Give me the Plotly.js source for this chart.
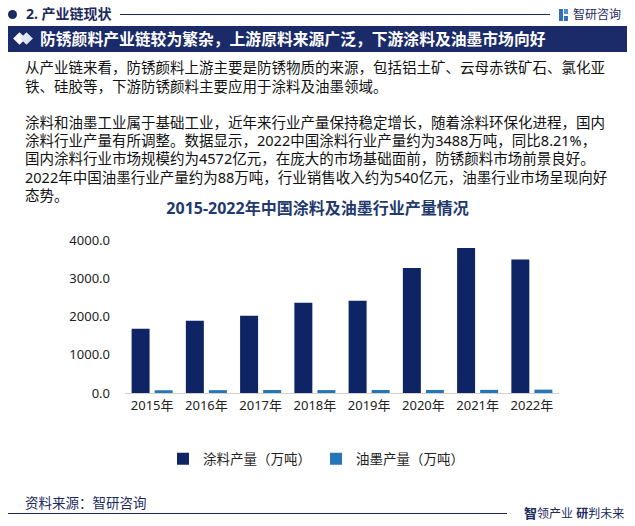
<!DOCTYPE html>
<html>
<head>
<meta charset="utf-8">
<script src="https://cdn.plot.ly/plotly-3.0.1.min.js"></script>
<style>
html,body{margin:0;padding:0;background:#fff;}
body{width:635px;height:526px;position:relative;overflow:hidden;font-family:"Noto Sans","Noto Sans CJK SC",sans-serif;}
#chart{position:absolute;left:0;top:0;width:635px;height:526px;}
.ov{position:absolute;z-index:5;white-space:nowrap;}
</style>
</head>
<body>
<div id="chart"></div>

<div class="ov" style="left:8px;top:10px;width:9px;height:9px;border-radius:50%;background:#1c2a5e;"></div>
<div class="ov" style="left:26px;top:4px;font-size:14px;font-weight:bold;color:#1c2a5e;line-height:20px;">2. 产业链现状</div>
<div class="ov" style="left:120px;top:14px;width:430px;height:1px;background:#1c2a5e;"></div>
<div class="ov" style="left:559px;top:9px;width:9px;height:12px;">
  <div style="position:absolute;left:0;top:0;width:4px;height:12px;background:#2e6fc0;"></div>
  <div style="position:absolute;left:5px;top:0;width:4px;height:5px;background:#4a90d9;"></div>
  <div style="position:absolute;left:5px;top:7px;width:4px;height:5px;background:#2e6fc0;"></div>
</div>
<div class="ov" style="left:573px;top:5px;font-size:12px;color:#1c2a5e;line-height:20px;">智研咨询</div>

<div class="ov" style="left:8px;top:26px;width:619px;height:26px;background:#1b2a68;"></div>
<div class="ov" style="left:15px;top:34px;width:9px;height:9px;background:#fff;transform:rotate(45deg);"></div>
<div class="ov" style="left:22px;top:34px;width:9px;height:9px;background:#dfe6f3;transform:rotate(45deg);"></div>
<div class="ov" style="left:40px;top:27px;font-size:15.8px;font-weight:bold;color:#fff;line-height:24px;">防锈颜料产业链较为繁杂，上游原料来源广泛，下游涂料及油墨市场向好</div>

<div class="ov" style="left:25px;top:58px;font-size:14.5px;color:#111;line-height:19px;">从产业链来看，防锈颜料上游主要是防锈物质的来源，包括铝土矿、云母赤铁矿石、氯化亚<br>铁、硅胶等，下游防锈颜料主要应用于涂料及油墨领域。</div>

<div class="ov" style="left:25px;top:113px;font-size:14.5px;color:#111;line-height:18.2px;">涂料和油墨工业属于基础工业，近年来行业产量保持稳定增长，随着涂料环保化进程，国内<br>涂料行业产量有所调整。数据显示，2022中国涂料行业产量约为3488万吨，同比8.21%，<br>国内涂料行业市场规模约为4572亿元，在庞大的市场基础面前，防锈颜料市场前景良好。<br>2022年中国油墨行业产量约为88万吨，行业销售收入约为540亿元，油墨行业市场呈现向好<br>态势。</div>

<div class="ov" style="left:25px;top:493px;font-size:13.5px;color:#1c2a5e;line-height:20px;">资料来源：智研咨询</div>
<div class="ov" style="left:8px;top:513px;width:499px;height:1px;background:#1c2a5e;"></div>
<div class="ov" style="left:524px;top:503px;font-size:12px;color:#1c2a5e;line-height:20px;"><b style="font-size:13px;">智</b>领产业 <b>研</b>判未来</div>

<script>
var years = ["2015年","2016年","2017年","2018年","2019年","2020年","2021年","2022年"];
var coatingOutput = [1680, 1890, 2020, 2357, 2410, 3270, 3793, 3488];
var inkOutput = [72, 75, 78, 76, 78, 80, 82, 88];
var seriesNames = ["涂料产量（万吨）", "油墨产量（万吨）"];
var chartTitle = "2015-2022年中国涂料及油墨行业产量情况";

var traces = [
  {type:"bar", name:seriesNames[0], x:years, y:coatingOutput, marker:{color:"#0e2465"}},
  {type:"bar", name:seriesNames[1], x:years, y:inkOutput, marker:{color:"#2675b4"}}
];
var layout = {
  width:635, height:526,
  paper_bgcolor:"rgba(0,0,0,0)", plot_bgcolor:"rgba(0,0,0,0)",
  margin:{l:125, r:76, t:240, b:133, pad:0},
  barmode:"group", bargap:0.15, bargroupgap:0.22,
  font:{family:'"Noto Sans","Noto Sans CJK SC",sans-serif', color:"#222"},
  title:{text:"<b>"+chartTitle+"</b>", font:{size:16, color:"#1f3a6e"}, x:0.5, xref:"container", xanchor:"center", y:1-208/526, yref:"container", yanchor:"middle"},
  xaxis:{type:"category", showline:true, linecolor:"#d0d0d0", linewidth:1, ticks:"", tickfont:{size:13, color:"#222"}, showgrid:false, fixedrange:true},
  yaxis:{range:[0,4000], dtick:1000, tickformat:".1f", showgrid:false, zeroline:false, showline:false, ticks:"", ticklabelstandoff:14, tickfont:{size:13, color:"#222"}},
  showlegend:true,
  legend:{orientation:"h", xref:"container", yref:"container", x:316/635, xanchor:"center", y:1-459/526, yanchor:"middle", font:{size:13.5, color:"#222"}, itemwidth:30, traceorder:"normal"}
};
Plotly.newPlot("chart", traces, layout, {staticPlot:true});
</script>
</body>
</html>
